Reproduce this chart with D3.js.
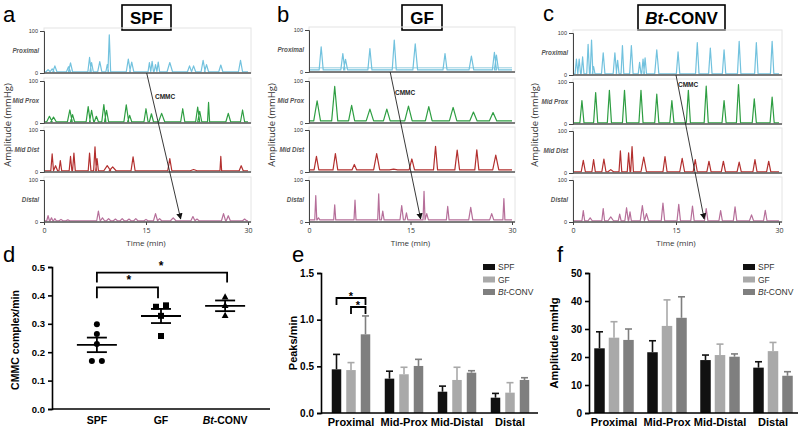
<!DOCTYPE html>
<html><head><meta charset="utf-8">
<script src="https://cdn.jsdelivr.net/npm/d3@7"></script>
<style>body{margin:0;background:#fff}svg{display:block;font-family:"Liberation Sans",Arial,sans-serif}</style>
</head><body><svg id="c" width="800" height="428"></svg>
<script>
// ---------- DATA ----------
const timeTicks = [0, 15, 30];
const ampTicks = [0, 100];
const rowNames = ["Proximal", "Mid Prox", "Mid Dist", "Distal"];
const panelTitles = ["SPF", "GF", "Bt-CONV"];
const rowColors = ["#72c2de", "#2e9e42", "#b3302f", "#b66f9a"];
// peaks: [time (min), amplitude (mmHg), half width (min)]
const spfProximal = [[0.6,8,.3],[1.2,10,.3],[1.6,17,.3],[3.6,15,.3],[3.9,24,.3],[6.7,37,.25],[7.0,25,.25],[8.2,27,.3],[9.3,20,.2],[9.6,91,.2],[12.4,33,.3],[12.9,26,.3],[15.5,25,.2],[15.9,28,.2],[16.4,20,.2],[16.8,26,.2],[18.5,25,.4],[21.4,17,.3],[22.0,17,.3],[23.4,30,.3],[23.9,20,.3],[26.0,19,.3],[28.9,30,.3]];
const spfMidProx = [[0.8,16,.4],[1.4,14,.4],[3.8,31,.35],[4.2,20,.3],[6.5,39,.3],[7.0,30,.3],[7.7,16,.3],[8.8,44,.3],[9.2,30,.3],[12.1,43,.35],[12.6,18,.3],[15.0,34,.3],[15.8,22,.3],[17.3,23,.45],[20.4,34,.3],[22.6,38,.3],[22.9,28,.3],[24.2,49,.15],[27.1,23,.35],[29.2,31,.3]];
const spfMidDist = [[1.2,43,.2],[1.7,15,.3],[2.4,27,.2],[3.9,37,.2],[4.4,45,.2],[6.7,45,.2],[7.5,60,.2],[7.8,32,.2],[9.3,15,.5],[10.1,12,.5],[13.1,36,.3],[18.5,32,.3],[22.0,6,.5],[26.0,37,.12],[29.0,15,.3]];
const spfDistal = [[0.6,15,.2],[1.1,10,.2],[1.6,8,.2],[2.5,6,.3],[3.5,5,.3],[8.0,26,.25],[8.6,10,.3],[9.5,8,.3],[10.5,7,.3],[11.5,8,.3],[12.5,7,.3],[13.5,8,.3],[15.0,6,.3],[16.4,20,.3],[17.0,8,.3],[19.0,10,.4],[21.9,13,.3],[22.5,7,.3],[26.4,20,.3],[27.1,15,.3],[29.5,7,.3]];
const gfProximal = [[1.8,60,.3],[5.0,44,.3],[5.4,30,.3],[9.0,56,.3],[12.6,76,.3],[15.7,67,.35],[20.1,44,.3],[24.0,38,.35],[27.4,47,.3],[27.7,40,.3]];
const gfMidProx = [[1.2,53,.5],[3.8,87,.45],[6.3,42,.45],[9.0,33,.55],[11.5,33,.5],[14.7,40,.55],[17.7,39,.5],[21.3,37,.55],[24.3,26,.55],[27.2,25,.55]];
const gfMidDist = [[1.1,37,.35],[3.9,44,.35],[6.7,18,.35],[10.0,44,.45],[12.5,7,.6],[15.2,31,.4],[18.7,61,.3],[21.9,52,.35],[24.8,53,.3],[27.6,40,.45]];
const gfDistal = [[1.0,63,.15],[1.4,10,.2],[3.8,41,.15],[6.8,52,.15],[10.3,67,.15],[10.9,26,.2],[13.7,39,.25],[14.4,22,.2],[17.0,73,.15],[17.4,20,.25],[20.5,37,.2],[23.9,35,.3],[27.0,20,.3],[28.8,56,.15]];
const btProximal = [[0.5,38,.2],[0.9,38,.2],[1.4,43,.2],[2.2,73,.2],[2.7,83,.2],[3.0,20,.2],[4.4,53,.25],[6.1,53,.25],[6.5,35,.2],[7.2,70,.2],[8.5,70,.25],[9.7,30,.2],[10.2,38,.2],[10.5,41,.2],[12.2,60,.3],[15.3,55,.25],[18.1,77,.25],[20.0,64,.25],[22.0,60,.25],[24.2,80,.25],[26.7,77,.25],[29.0,80,.25]];
const btMidProx = [[1.3,56,.3],[3.3,75,.3],[5.3,80,.3],[7.5,80,.3],[9.9,80,.3],[12.2,71,.3],[14.4,56,.3],[16.8,80,.3],[19.4,90,.3],[22.0,56,.3],[24.1,94,.3],[26.4,60,.3],[29.0,64,.3]];
const btMidDist = [[1.5,30,.3],[3.0,32,.25],[4.5,33,.3],[5.5,8,.4],[6.9,53,.2],[8.1,48,.2],[8.6,63,.2],[10.3,38,.4],[13.4,39,.3],[15.9,35,.35],[17.8,32,.3],[19.8,28,.3],[21.9,28,.3],[24.2,26,.3],[26.5,32,.3],[28.5,28,.3]];
const btDistal = [[1.5,27,.2],[2.5,10,.3],[4.4,32,.2],[5.5,12,.4],[6.8,19,.2],[7.8,34,.25],[8.3,24,.2],[10.1,39,.3],[10.7,20,.3],[13.1,45,.25],[15.4,42,.25],[17.4,38,.25],[19.4,32,.25],[21.5,27,.25],[23.6,36,.25],[26.0,17,.3],[28.0,28,.25]];
const traceBase = [3, 5, 3];
const gfProxThreshold = 10;
// CMMC arrow: [start time, end time]
const cmmcArrowTimes = [[15.1, 20.1], [12.0, 16.5], [15.0, 19.1]];

// panel d
const groups = ["SPF", "GF", "Bt-CONV"];
const cmmcSPF = [0.298, 0.264, 0.229, 0.169, 0.169];
const cmmcGF = [0.36, 0.365, 0.328, 0.257];
const cmmcBt = [0.395, 0.365, 0.33];
const cmmcTicks = [0, 0.1, 0.2, 0.3, 0.4, 0.5];

// panels e, f
const segments = ["Proximal", "Mid-Prox", "Mid-Distal", "Distal"];
const peaksSPF = [0.468, 0.368, 0.228, 0.164], peaksSPFerr = [0.16, 0.08, 0.06, 0.046];
const peaksGF = [0.46, 0.415, 0.354, 0.218], peaksGFerr = [0.08, 0.075, 0.136, 0.107];
const peaksBt = [0.843, 0.504, 0.432, 0.354], peaksBtErr = [0.197, 0.071, 0.021, 0.024];
const peaksTicks = [0, 0.5, 1.0, 1.5];
const ampSPF = [23.1, 21.7, 18.9, 16.2], ampSPFerr = [5.9, 4.1, 1.8, 2.1];
const ampGF = [26.9, 31.1, 20.7, 22.1], ampGFerr = [5.7, 9.3, 3.9, 3.1];
const ampBt = [26.1, 34.0, 20.1, 13.3], ampBtErr = [3.9, 7.5, 1.0, 1.45];
const ampTicksF = [0, 10, 20, 30, 40, 50];
const barColors = ["#111111", "#a9a9a9", "#7f7f7f"];

// ---------- DRAW ----------
const svg = d3.select("#c");
const traces = [[spfProximal, spfMidProx, spfMidDist, spfDistal],
                [gfProximal, gfMidProx, gfMidDist, gfDistal],
                [btProximal, btMidProx, btMidDist, btDistal]];
const rowH = 42;
const tp = [
  {x0:44, x1:248, zeros:[73,123,172,222], box:[122,49], letter:[3,22,"a"], ampX:11, lab:[155,97]},
  {x0:309, x1:512, zeros:[72,123,172,222], box:[402,40], letter:[277,22,"b"], ampX:275, lab:[395,93]},
  {x0:573, x1:779, zeros:[75,124,173,222], box:[638,87], letter:[543,21,"c"], ampX:538, lab:[678,85]}
];
const defs = svg.append("defs");
defs.append("marker").attr("id","arr").attr("viewBox","0 0 10 10").attr("refX",9).attr("refY",5)
  .attr("markerWidth",7).attr("markerHeight",7).attr("orient","auto-start-reverse")
  .append("path").attr("d","M0,0L10,5L0,10z").attr("fill","#111");

tp.forEach((p, pi) => {
  const g = svg.append("g");
  const x = d3.scaleLinear().domain([0,30]).range([p.x0, p.x1]);
  g.append("text").attr("x",p.letter[0]).attr("y",p.letter[1]).attr("font-size",22).text(p.letter[2]);
  g.append("rect").attr("x",p.box[0]).attr("y",5).attr("width",p.box[1]).attr("height",25)
    .attr("fill","none").attr("stroke","#000").attr("stroke-width",1.6);
  const tt = g.append("text").attr("x",p.box[0]+p.box[1]/2).attr("y",24).attr("text-anchor","middle")
    .attr("font-size",17).attr("font-weight","bold");
  if (panelTitles[pi] === "Bt-CONV") {
    tt.append("tspan").attr("font-style","italic").text("Bt");
    tt.append("tspan").text("-CONV");
  } else tt.text(panelTitles[pi]);
  g.append("text").attr("transform",`translate(${p.ampX},125) rotate(-90)`).attr("text-anchor","middle")
    .attr("font-size",9.5).attr("fill","#333").attr("font-family","'Open Sans',sans-serif").text("Amplitude (mmHg)");
  p.zeros.forEach((z, ri) => {
    const y = d3.scaleLinear().domain([0,100]).range([z, z-rowH]);
    g.append("rect").attr("x",p.x0).attr("y",z-rowH-3).attr("width",p.x1-p.x0+3).attr("height",rowH+3)
      .attr("fill","none").attr("stroke","#e4e4e4").attr("stroke-width",1);
    g.append("text").attr("x",p.x0-5).attr("y",z-20).attr("text-anchor","end").attr("font-size",6.3)
      .attr("font-style","italic").attr("font-weight",600).attr("fill","#555").text(rowNames[ri]);
    if (pi === 1 && ri === 0) {
      g.append("line").attr("x1",p.x0).attr("x2",p.x1).attr("y1",y(gfProxThreshold)).attr("y2",y(gfProxThreshold))
        .attr("stroke","#8cc9de").attr("stroke-width",0.9);
    }
    const base = traceBase[pi];
    const pts = [[0, base]];
    traces[pi][ri].forEach(([t,h,w]) => { pts.push([t-w, base],[t,h],[t+w, base]); });
    pts.push([30, base]);
    const line = d3.line().x(d => x(d[0])).y(d => y(d[1]));
    g.append("path").attr("d", line(pts)).attr("fill","none").attr("stroke",rowColors[ri])
      .attr("stroke-width",1.2).attr("stroke-linejoin","round");
    const ax = g.append("g").attr("transform",`translate(${p.x0},0)`).call(d3.axisLeft(y).tickValues(ampTicks).tickSize(4));
    ax.select(".domain").attr("stroke","#444");
    ax.selectAll(".tick line").attr("stroke","#444");
    ax.selectAll("text").attr("font-size",5.5).attr("fill","#333").attr("dx",1);
    g.append("line").attr("x1",p.x0).attr("x2",p.x1+3).attr("y1",z).attr("y2",z).attr("stroke","#555").attr("stroke-width",1.4);
  });
  const xa = g.append("g").attr("transform",`translate(0,${p.zeros[3]})`).call(d3.axisBottom(x).tickValues(timeTicks).tickSize(3));
  xa.select(".domain").remove();
  xa.selectAll(".tick line").attr("stroke","#444");
  xa.selectAll("text").attr("font-size",7).attr("fill","#333").attr("font-family","'Open Sans',sans-serif");
  g.append("text").attr("x",x(15)).attr("y",246).attr("text-anchor","middle").attr("font-size",8)
    .attr("fill","#333").attr("font-family","'Open Sans',sans-serif").text("Time (min)");
  const [ta, tb] = cmmcArrowTimes[pi];
  g.append("line").attr("x1",x(ta)).attr("y1",p.zeros[0]).attr("x2",x(tb)).attr("y2",p.zeros[3]-3)
    .attr("stroke","#222").attr("stroke-width",0.9).attr("marker-end","url(#arr)");
  g.append("text").attr("x",p.lab[0]).attr("y",p.lab[1]+2).attr("font-size",6.5).attr("font-weight","bold")
    .attr("fill","#222").text("CMMC");
});

// ---------- Panel d ----------
{
  const g = svg.append("g");
  g.append("text").attr("x",3).attr("y",262).attr("font-size",22).text("d");
  const x = d3.scalePoint().domain(groups).range([52,270]).padding(0.7);
  const y = d3.scaleLinear().domain([0,0.5]).range([409,267]);
  const ya = g.append("g").attr("transform","translate(52,0)").call(d3.axisLeft(y).tickValues(cmmcTicks).tickFormat(d3.format(".1f")).tickSize(4));
  ya.select(".domain").attr("stroke-width",1.6);
  ya.selectAll(".tick line").attr("stroke-width",1.6);
  ya.selectAll("text").attr("font-size",9.5).attr("font-weight","bold").attr("fill","#000");
  g.append("line").attr("x1",52).attr("x2",270).attr("y1",409).attr("y2",409).attr("stroke","#000").attr("stroke-width",1.6);
  g.append("text").attr("transform","translate(19,340) rotate(-90)").attr("text-anchor","middle")
    .attr("font-size",10.5).attr("font-weight","bold").text("CMMC complex/min");
  groups.forEach(gr => {
    const t = g.append("text").attr("x",x(gr)).attr("y",424).attr("text-anchor","middle").attr("font-size",10.5).attr("font-weight","bold");
    if (gr === "Bt-CONV") { t.append("tspan").attr("font-style","italic").text("Bt"); t.append("tspan").text("-CONV"); }
    else t.text(gr);
  });
  const sets = [cmmcSPF, cmmcGF, cmmcBt];
  sets.forEach((vals, i) => {
    const cx = x(groups[i]);
    const placed = [];
    vals.forEach(v => {
      const near = placed.filter(q => Math.abs(q.v - v) < 0.012);
      let off = 0;
      if (near.length) { near.forEach(q => q.off = -5); off = 5; }
      placed.push({v, off});
    });
    placed.forEach(q => {
      const px = cx + q.off, py = y(q.v);
      if (i === 0) g.append("circle").attr("cx",px).attr("cy",py).attr("r",3).attr("fill","#000");
      else if (i === 1) g.append("rect").attr("x",px-3).attr("y",py-3).attr("width",6).attr("height",6).attr("fill","#000");
      else g.append("path").attr("d",`M${px},${py-3.6}L${px+3.4},${py+2.6}L${px-3.4},${py+2.6}Z`).attr("fill","#000");
    });
    const m = d3.mean(vals), se = d3.deviation(vals)/Math.sqrt(vals.length);
    const L = (x1,y1,x2,y2) => g.append("line").attr("x1",x1).attr("x2",x2).attr("y1",y1).attr("y2",y2).attr("stroke","#000").attr("stroke-width",1.8);
    L(cx-20,y(m),cx+20,y(m));
    L(cx,y(m-se),cx,y(m+se));
    L(cx-10,y(m-se),cx+10,y(m-se));
    L(cx-10,y(m+se),cx+10,y(m+se));
  });
  const B = (x1,x2,yTop,yLeg1,yLeg2) => g.append("path")
    .attr("d",`M${x1},${y(yLeg1)}V${y(yTop)}H${x2}V${y(yLeg2)}`).attr("fill","none").attr("stroke","#000").attr("stroke-width",1.8);
  B(x("SPF"), x("GF")-3, 0.428, 0.39, 0.39);
  B(x("SPF"), x("Bt-CONV")+2, 0.48, 0.445, 0.445);
  g.append("text").attr("x",(x("SPF")+x("GF"))/2).attr("y",y(0.428)-3).attr("text-anchor","middle").attr("font-size",12).attr("font-weight","bold").text("*");
  g.append("text").attr("x",(x("SPF")+x("Bt-CONV"))/2).attr("y",y(0.48)-3).attr("text-anchor","middle").attr("font-size",12).attr("font-weight","bold").text("*");
}

// ---------- Panels e, f ----------
function barPanel(cfg) {
  const g = svg.append("g");
  g.append("text").attr("x",cfg.letterX).attr("y",262).attr("font-size",22).text(cfg.letter);
  const x = d3.scalePoint().domain(segments).range(cfg.centers);
  const y = d3.scaleLinear().domain(cfg.domain).range([413,273]);
  const ya = g.append("g").attr("transform",`translate(${cfg.axisX},0)`).call(d3.axisLeft(y).tickValues(cfg.ticks).tickFormat(cfg.fmt).tickSize(4));
  ya.select(".domain").attr("stroke-width",1.6);
  ya.selectAll(".tick line").attr("stroke-width",1.6);
  ya.selectAll("text").attr("font-size",10).attr("font-weight","bold").attr("fill","#000");
  g.append("text").attr("transform",`translate(${cfg.titleX},343) rotate(-90)`).attr("text-anchor","middle")
    .attr("font-size",11).attr("font-weight","bold").text(cfg.title);
  cfg.series.forEach(([vals, errs], si) => {
    vals.forEach((v, k) => {
      const cx = x(segments[k]) + (si-1)*14.5;
      const top = y(v), et = y(v + errs[k]);
      g.append("line").attr("x1",cx).attr("x2",cx).attr("y1",top).attr("y2",et).attr("stroke",barColors[si]).attr("stroke-width",1.6);
      g.append("line").attr("x1",cx-3.5).attr("x2",cx+3.5).attr("y1",et).attr("y2",et).attr("stroke",barColors[si]).attr("stroke-width",1.6);
      g.append("rect").attr("x",cx-cfg.bw/2).attr("y",top).attr("width",cfg.bw).attr("height",413-top).attr("fill",barColors[si]);
    });
  });
  g.append("line").attr("x1",cfg.axisX).attr("x2",cfg.axisEnd).attr("y1",413).attr("y2",413).attr("stroke","#000").attr("stroke-width",1.6);
  segments.forEach(s => g.append("text").attr("x",x(s)).attr("y",426).attr("text-anchor","middle")
    .attr("font-size",11).attr("font-weight","bold").text(s));
  groups.forEach((gr, i) => {
    const ly = 267 + i*12.5;
    g.append("rect").attr("x",cfg.legX).attr("y",ly-3).attr("width",12).attr("height",6).attr("fill",barColors[i]);
    const t = g.append("text").attr("x",cfg.legX+15).attr("y",ly+3).attr("font-size",8.5).attr("fill","#333");
    if (gr === "Bt-CONV") { t.append("tspan").attr("font-style","italic").text("Bt"); t.append("tspan").text("-CONV"); }
    else t.text(gr);
  });
  return {g, x, y};
}
{
  const {g, x} = barPanel({letter:"e", letterX:292, axisX:321, axisEnd:538, centers:[351,510], domain:[0,1.5],
    ticks:peaksTicks, fmt:d3.format(".1f"), title:"Peaks/min", titleX:297, bw:9.5, legX:483,
    series:[[peaksSPF,peaksSPFerr],[peaksGF,peaksGFerr],[peaksBt,peaksBtErr]]});
  const c = x("Proximal");
  const B = (x1,x2,yy) => g.append("path").attr("d",`M${x1},${yy+7}V${yy}H${x2}V${yy+7}`).attr("fill","none").attr("stroke","#000").attr("stroke-width",1.8);
  B(c-14.5, c+14.5, 298);
  B(c, c+14.5, 307);
  g.append("text").attr("x",c).attr("y",300).attr("text-anchor","middle").attr("font-size",11).attr("font-weight","bold").text("*");
  g.append("text").attr("x",c+7).attr("y",309).attr("text-anchor","middle").attr("font-size",11).attr("font-weight","bold").text("*");
}
barPanel({letter:"f", letterX:557, axisX:589, axisEnd:798, centers:[614,773], domain:[0,50],
  ticks:ampTicksF, fmt:d3.format("d"), title:"Amplitude mmHg", titleX:558, bw:10.5, legX:743,
  series:[[ampSPF,ampSPFerr],[ampGF,ampGFerr],[ampBt,ampBtErr]]});
</script></body></html>
